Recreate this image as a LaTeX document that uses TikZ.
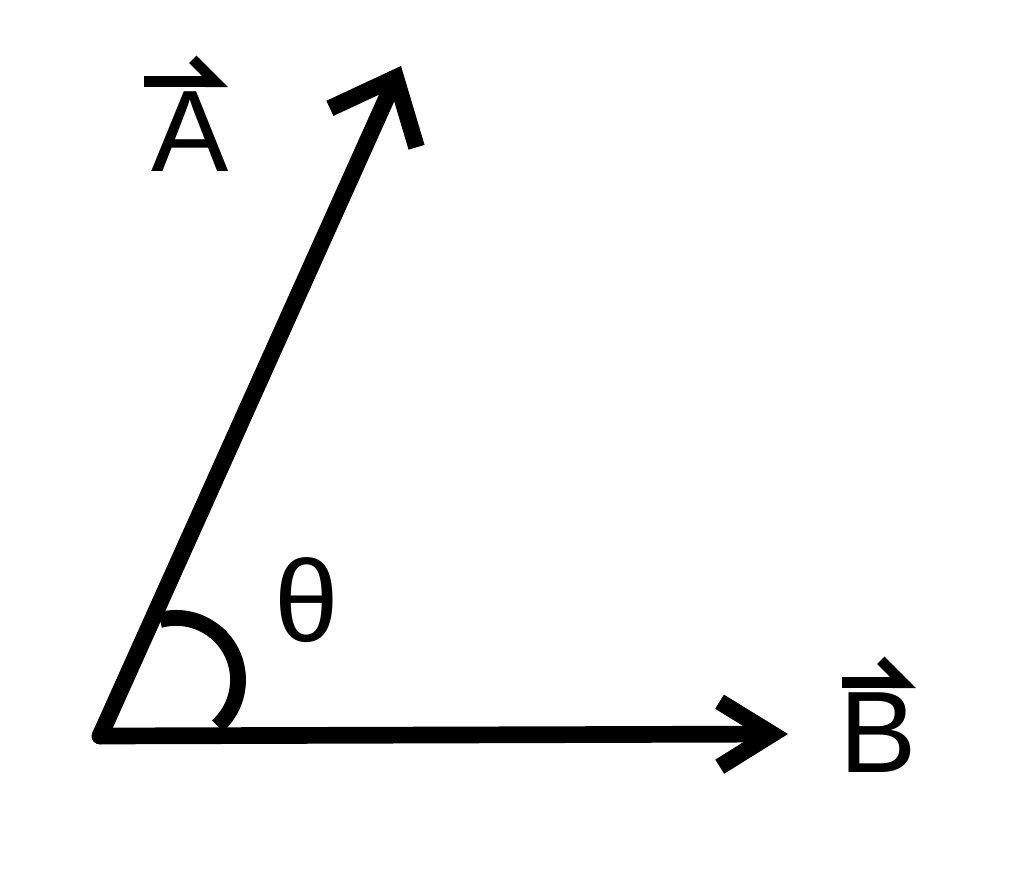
\documentclass[tikz,border=0pt]{standalone}
\usepackage{fontspec}
\setmainfont{Liberation Sans}
\usetikzlibrary{arrows.meta,calc}
\definecolor{cInk}{HTML}{000000}

\begin{document}
\begin{tikzpicture}[
    x=0.02cm, y=-0.02cm,
    every node/.style={text=cInk},
    vecA/.style={
        -{Straight Barb[length=11mm, width=19mm]},
        line width=9.5pt, draw=cInk, line cap=round
    },
    vecB/.style={
        -{Straight Barb[length=10.5mm, width=13mm]},
        line width=9.5pt, draw=cInk, line cap=round
    },
    anglearc/.style={line width=9pt, draw=cInk},
    vlabel/.style={font=\fontsize{66}{70}\selectfont, inner sep=0pt},
    harp/.style={
        -{Straight Barb[harpoon, length=4.5mm, width=9mm]},
        line width=6pt, draw=cInk
    },
]

\useasboundingbox (0,0) rectangle (1024,885);

% =====================================================
% Vectors
% =====================================================

\coordinate (orig) at (100,736);
\coordinate (tipA) at (401,66);
\coordinate (tipB) at (788,734);

\draw[vecA] (orig) -- (tipA);
\draw[vecB] (orig) -- (tipB);

% angle between them
\coordinate (arcS) at (160,620);
\draw[anglearc] (arcS) arc[start angle=-105, end angle=48, radius=62];

% =====================================================
% Labels
% =====================================================

\node[vlabel] (lblA) at (190,132) {A};
\node[vlabel] (lblT) at (307,600) {θ};
\node[vlabel] (lblB) at (878,733) {B};

\draw[harp] ($(lblA.north)+(-46,-10)$) -- ($(lblA.north)+(38,-10)$);
\draw[harp] ($(lblB.north)+(-36,-10)$) -- ($(lblB.north)+(38,-10)$);

\end{tikzpicture}
\end{document}
